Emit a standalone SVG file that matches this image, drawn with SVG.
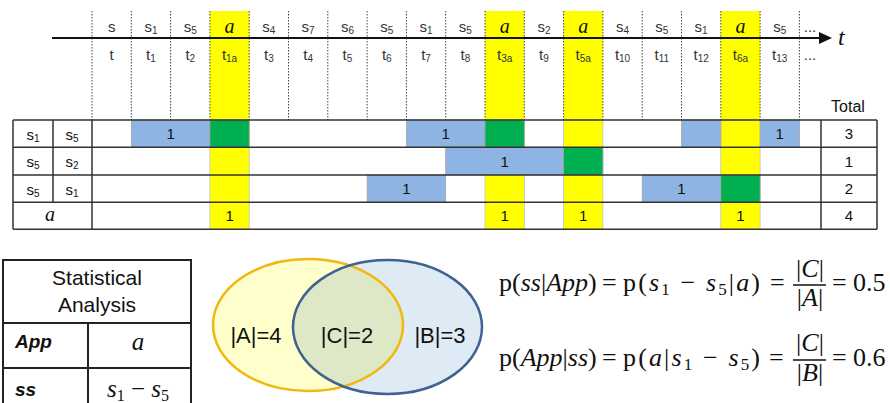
<svg xmlns="http://www.w3.org/2000/svg" width="890" height="403" viewBox="0 0 890 403">
<style>
.h{font-family:"Liberation Sans",Arial,sans-serif;font-size:15px;fill:#333;text-anchor:middle}
.sub{font-size:10px}
.ia{font-family:"Liberation Serif","DejaVu Serif",serif;font-style:italic;font-size:20px;fill:#111;text-anchor:middle}
.dot{stroke:#444;stroke-width:1;stroke-dasharray:1.5 1.5;fill:none}
.grid{stroke:#333;stroke-width:1.5;fill:none}
.blue{fill:#8EB4E3;stroke:#A6A6A6;stroke-width:0.8}
.green{fill:#00B050;stroke:#A6A6A6;stroke-width:0.8}
.yel{fill:#FFFF00}
.yc{fill:#FFFF00;stroke:#BFBFBF;stroke-width:0.8}
.c{font-family:"Liberation Sans",Arial,sans-serif;fill:#111;text-anchor:middle}
.f{font-family:"Liberation Serif","DejaVu Serif",serif;fill:#111}
.fi{font-style:italic}
.v{font-family:"Liberation Sans",Arial,sans-serif;font-size:22px;fill:#111;text-anchor:middle}
.bi{font-family:"Liberation Sans",Arial,sans-serif;font-weight:bold;font-style:italic;font-size:19px;fill:#111}
</style>
<defs>
<clipPath id="clipA"><ellipse cx="308" cy="325" rx="95" ry="66"/></clipPath>
</defs>

<g id="timeline">
<rect class="yel" x="209.9" y="11" width="39.3" height="109"/>
<rect class="yel" x="485" y="11" width="39.3" height="109"/>
<rect class="yel" x="563.6" y="11" width="39.3" height="109"/>
<rect class="yel" x="720.8" y="11" width="39.3" height="109"/>
<rect class="yc" x="209.9" y="120" width="39.3" height="109.3"/>
<rect class="yc" x="485" y="120" width="39.3" height="109.3"/>
<rect class="yc" x="563.6" y="120" width="39.3" height="109.3"/>
<rect class="yc" x="720.8" y="120" width="39.3" height="109.3"/>
<path class="dot" d="M92 11V120M131.3 11V120M170.6 11V120M209.9 11V120M249.2 11V120M288.5 11V120M327.8 11V120M367.1 11V120M406.4 11V120M445.7 11V120M485 11V120M524.3 11V120M563.6 11V120M602.9 11V120M642.2 11V120M681.5 11V120M720.8 11V120M760.1 11V120M799.4 11V120"/>
<line x1="52" y1="38" x2="822" y2="38" stroke="#111" stroke-width="2"/>
<polygon points="819,32 832,38 819,44" fill="#111"/>
<text x="838" y="45" class="f fi" style="font-size:24px">t</text>

<text class="h" x="111.65" y="32">s</text>
<text class="h" x="150.95" y="32">s<tspan class="sub" dy="2">1</tspan></text>
<text class="h" x="190.25" y="32">s<tspan class="sub" dy="2">5</tspan></text>
<text class="ia" x="229.55" y="33">a</text>
<text class="h" x="268.85" y="32">s<tspan class="sub" dy="2">4</tspan></text>
<text class="h" x="308.15" y="32">s<tspan class="sub" dy="2">7</tspan></text>
<text class="h" x="347.45" y="32">s<tspan class="sub" dy="2">6</tspan></text>
<text class="h" x="386.75" y="32">s<tspan class="sub" dy="2">5</tspan></text>
<text class="h" x="426.05" y="32">s<tspan class="sub" dy="2">1</tspan></text>
<text class="h" x="465.35" y="32">s<tspan class="sub" dy="2">5</tspan></text>
<text class="ia" x="504.65" y="33">a</text>
<text class="h" x="543.95" y="32">s<tspan class="sub" dy="2">2</tspan></text>
<text class="ia" x="583.25" y="33">a</text>
<text class="h" x="622.55" y="32">s<tspan class="sub" dy="2">4</tspan></text>
<text class="h" x="661.85" y="32">s<tspan class="sub" dy="2">5</tspan></text>
<text class="h" x="701.15" y="32">s<tspan class="sub" dy="2">1</tspan></text>
<text class="ia" x="740.45" y="33">a</text>
<text class="h" x="779.75" y="32">s<tspan class="sub" dy="2">5</tspan></text>
<text class="h" x="810" y="32">...</text>

<text class="h" x="111.65" y="60">t</text>
<text class="h" x="150.95" y="60">t<tspan class="sub" dy="2">1</tspan></text>
<text class="h" x="190.25" y="60">t<tspan class="sub" dy="2">2</tspan></text>
<text class="h" x="229.55" y="60">t<tspan class="sub" dy="2">1a</tspan></text>
<text class="h" x="268.85" y="60">t<tspan class="sub" dy="2">3</tspan></text>
<text class="h" x="308.15" y="60">t<tspan class="sub" dy="2">4</tspan></text>
<text class="h" x="347.45" y="60">t<tspan class="sub" dy="2">5</tspan></text>
<text class="h" x="386.75" y="60">t<tspan class="sub" dy="2">6</tspan></text>
<text class="h" x="426.05" y="60">t<tspan class="sub" dy="2">7</tspan></text>
<text class="h" x="465.35" y="60">t<tspan class="sub" dy="2">8</tspan></text>
<text class="h" x="504.65" y="60">t<tspan class="sub" dy="2">3a</tspan></text>
<text class="h" x="543.95" y="60">t<tspan class="sub" dy="2">9</tspan></text>
<text class="h" x="583.25" y="60">t<tspan class="sub" dy="2">5a</tspan></text>
<text class="h" x="622.55" y="60">t<tspan class="sub" dy="2">10</tspan></text>
<text class="h" x="661.85" y="60">t<tspan class="sub" dy="2">11</tspan></text>
<text class="h" x="701.15" y="60">t<tspan class="sub" dy="2">12</tspan></text>
<text class="h" x="740.45" y="60">t<tspan class="sub" dy="2">6a</tspan></text>
<text class="h" x="779.75" y="60">t<tspan class="sub" dy="2">13</tspan></text>
<text class="h" x="810" y="60">...</text>
</g>

<g id="table">
<rect class="blue" x="131.3" y="120" width="78.6" height="27.3"/>
<rect class="green" x="209.9" y="120" width="39.3" height="27.3"/>
<rect class="blue" x="406.4" y="120" width="78.6" height="27.3"/>
<rect class="green" x="485" y="120" width="39.3" height="27.3"/>
<rect class="blue" x="681.5" y="120" width="39.3" height="27.3"/>
<rect class="blue" x="760.1" y="120" width="39.3" height="27.3"/>
<rect class="blue" x="445.7" y="147.3" width="117.9" height="27.7"/>
<rect class="green" x="563.6" y="147.3" width="39.3" height="27.7"/>
<rect class="blue" x="367.1" y="175" width="78.6" height="27.3"/>
<rect class="blue" x="642.2" y="175" width="78.6" height="27.3"/>
<rect class="green" x="720.8" y="175" width="39.3" height="27.3"/>

<path class="grid" d="M13 120H877M13 147.3H877M13 175H877M13 202.3H877M13 229.3H877M13 120V229.3M53 120V202.3M92 120V229.3M821 120V229.3M877 120V229.3"/>

<text class="c" x="848" y="112" style="font-size:16px">Total</text>
<g style="font-size:15px">
<text class="c" x="33" y="140">s<tspan class="sub" dy="2">1</tspan></text>
<text class="c" x="72" y="140">s<tspan class="sub" dy="2">5</tspan></text>
<text class="c" x="33" y="167">s<tspan class="sub" dy="2">5</tspan></text>
<text class="c" x="72" y="167">s<tspan class="sub" dy="2">2</tspan></text>
<text class="c" x="33" y="195">s<tspan class="sub" dy="2">5</tspan></text>
<text class="c" x="72" y="195">s<tspan class="sub" dy="2">1</tspan></text>
<text class="c" x="170.6" y="139">1</text>
<text class="c" x="445.7" y="139">1</text>
<text class="c" x="779.75" y="139">1</text>
<text class="c" x="504.65" y="166.5">1</text>
<text class="c" x="406.4" y="194">1</text>
<text class="c" x="681.5" y="194">1</text>
<text class="c" x="229.55" y="221">1</text>
<text class="c" x="504.65" y="221">1</text>
<text class="c" x="583.25" y="221">1</text>
<text class="c" x="740.45" y="221">1</text>
<text class="c" x="849" y="139">3</text>
<text class="c" x="849" y="166.5">1</text>
<text class="c" x="849" y="194">2</text>
<text class="c" x="849" y="221">4</text>
</g>
<text class="ia" x="50" y="221">a</text>
</g>

<g id="stats">
<path d="M3 404V260H191V404M3 323H191M3 368H191M88 323V404" fill="none" stroke="#222" stroke-width="2"/>
<text class="c" x="97" y="285" style="font-size:21px">Statistical</text>
<text class="c" x="97" y="312" style="font-size:21px">Analysis</text>
<text class="bi" x="15" y="348">App</text>
<text class="ia" x="138" y="350" style="font-size:25px">a</text>
<text class="bi" x="15" y="396">ss</text>
<text class="f" x="138" y="397" text-anchor="middle" style="font-size:25px"><tspan class="fi">s</tspan><tspan style="font-size:16px" dy="4">1</tspan><tspan dy="-4"> − </tspan><tspan class="fi">s</tspan><tspan style="font-size:16px" dy="4">5</tspan></text>
</g>

<g id="venn">
<ellipse cx="308" cy="325" rx="95" ry="66" fill="#FFFFCC"/>
<ellipse cx="387.5" cy="327" rx="94.5" ry="67" fill="#DEEAF4"/>
<ellipse cx="387.5" cy="327" rx="94.5" ry="67" fill="#DFE8C6" clip-path="url(#clipA)"/>
<ellipse cx="308" cy="325" rx="95" ry="66" fill="none" stroke="#F2B70F" stroke-width="2.5"/>
<ellipse cx="387.5" cy="327" rx="94.5" ry="67" fill="none" stroke="#3F6290" stroke-width="2.5"/>
<text class="v" x="256" y="343">|A|=4</text>
<text class="v" x="347" y="343">|C|=2</text>
<text class="v" x="440" y="343">|B|=3</text>
</g>

<g id="formulas" style="font-size:26px">
<text class="f" x="499" y="291">p(<tspan class="fi">ss</tspan>|<tspan class="fi">App</tspan>)</text>
<text class="f" x="602" y="291">=</text>
<text class="f" x="623" y="291" textLength="137" lengthAdjust="spacing">p(<tspan class="fi">s</tspan><tspan style="font-size:17px" dy="4">1</tspan><tspan dy="-4"> − </tspan><tspan class="fi">s</tspan><tspan style="font-size:17px" dy="4">5</tspan><tspan dy="-4">|</tspan><tspan class="fi">a</tspan>)</text>
<text class="f" x="770" y="291">=</text>
<text class="f" x="810" y="277" text-anchor="middle">|<tspan class="fi">C</tspan>|</text>
<line x1="793" y1="285" x2="826" y2="285" stroke="#111" stroke-width="1.3"/>
<text class="f" x="810" y="306" text-anchor="middle">|<tspan class="fi">A</tspan>|</text>
<text class="f" x="832" y="291">=</text>
<text class="f" x="853" y="291">0.5</text>

<text class="f" x="499" y="366">p(<tspan class="fi">App</tspan>|<tspan class="fi">ss</tspan>)</text>
<text class="f" x="602" y="366">=</text>
<text class="f" x="623" y="366" textLength="137" lengthAdjust="spacing">p(<tspan class="fi">a</tspan>|<tspan class="fi">s</tspan><tspan style="font-size:17px" dy="4">1</tspan><tspan dy="-4"> − </tspan><tspan class="fi">s</tspan><tspan style="font-size:17px" dy="4">5</tspan><tspan dy="-4">)</tspan></text>
<text class="f" x="769" y="366">=</text>
<text class="f" x="810" y="351" text-anchor="middle">|<tspan class="fi">C</tspan>|</text>
<line x1="793" y1="360" x2="826" y2="360" stroke="#111" stroke-width="1.3"/>
<text class="f" x="810" y="381" text-anchor="middle">|<tspan class="fi">B</tspan>|</text>
<text class="f" x="832" y="366">=</text>
<text class="f" x="853" y="366">0.6</text>
</g>
</svg>
